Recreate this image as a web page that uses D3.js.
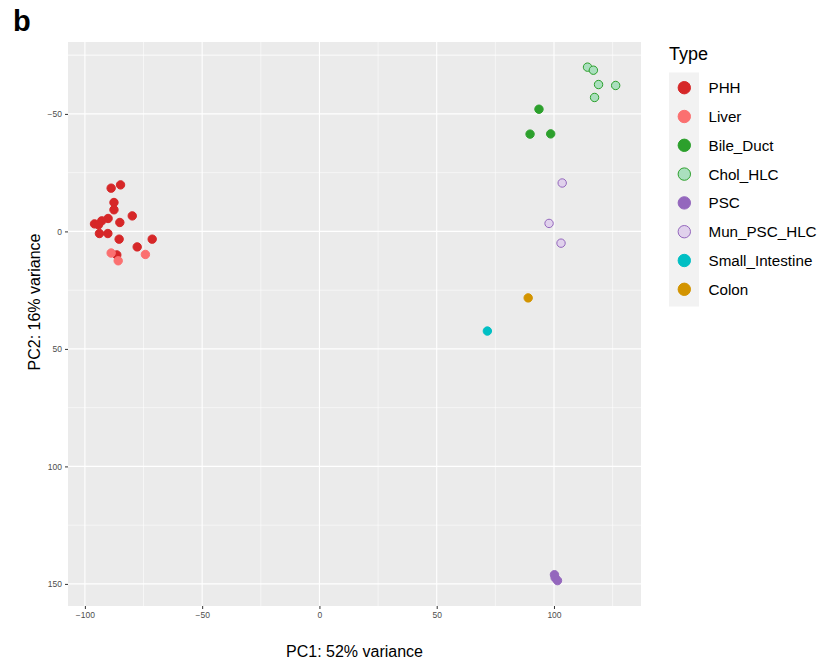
<!DOCTYPE html>
<html>
<head>
<meta charset="utf-8">
<script src="https://cdn.jsdelivr.net/npm/d3@7"></script>
<style>
  body { margin: 0; background: #fff; }
  text { font-family: "Liberation Sans", Arial, sans-serif; }
</style>
</head>
<body>
<svg id="chart" width="821" height="666"></svg>
<script>
// Sample types, in legend order
const types = ["PHH", "Liver", "Bile_Duct", "Chol_HLC", "PSC", "Mun_PSC_HLC", "Small_Intestine", "Colon"];
const fills = ["#d62728", "#fb7070", "#2ca02c", "#aadfbe", "#9467bd", "#e0d1ec", "#00bfc4", "#d39400"];
const strokes = ["#d62728", "#fb7070", "#2ca02c", "#2ca02c", "#9467bd", "#9467bd", "#00bfc4", "#d39400"];

// PCA coordinates, one list per type
const phhPC1 = [-84.8, -88.8, -87.6, -87.6, -79.8, -90.1, -92.8, -95.9, -94.2, -85.1, -93.8, -90.2, -85.4, -71.3, -77.7, -86.4];
const phhPC2 = [-19.8, -18.4, -12.3, -9.2, -6.6, -5.5, -4.5, -3.2, -2.8, -3.8, 0.9, 0.9, 3.3, 3.3, 6.6, 10.0];
const liverPC1 = [-88.8, -85.8, -74.2];
const liverPC2 = [9.2, 12.5, 9.8];
const bilePC1 = [93.6, 89.8, 98.6];
const bilePC2 = [-52.0, -41.4, -41.5];
const cholPC1 = [114.3, 116.8, 119.0, 126.3, 117.3];
const cholPC2 = [-69.9, -68.6, -62.5, -62.1, -57.0];
const pscPC1 = [100.2, 100.5, 101.5];
const pscPC2 = [146.1, 147.4, 148.6];
const munPC1 = [103.5, 97.9, 103.0];
const munPC2 = [-20.6, -3.4, 5.0];
const siPC1 = [71.6];
const siPC2 = [42.4];
const colonPC1 = [89.0];
const colonPC2 = [28.3];

const xTicks = [-100, -50, 0, 50, 100];
const yTicks = [-50, 0, 50, 100, 150];

const groups = [
  [phhPC1, phhPC2], [liverPC1, liverPC2], [bilePC1, bilePC2], [cholPC1, cholPC2],
  [pscPC1, pscPC2], [munPC1, munPC2], [siPC1, siPC2], [colonPC1, colonPC2]
];
const points = [];
groups.forEach((g, i) => {
  g[0].forEach((v, j) => points.push({type: types[i], pc1: v, pc2: g[1][j]}));
});

const svg = d3.select("#chart");
const panel = {left: 68, right: 641, top: 42, bottom: 606};

const x = d3.scaleLinear().domain([-107.2, 137.1]).range([panel.left, panel.right]);
// PC2 is flipped: negative values on top
const y = d3.scaleLinear().domain([-80.6, 159.4]).range([panel.top, panel.bottom]);
const fillScale = d3.scaleOrdinal().domain(types).range(fills);
const strokeScale = d3.scaleOrdinal().domain(types).range(strokes);

svg.append("text").attr("x", 13).attr("y", 31)
  .attr("font-size", 29).attr("font-weight", "bold").text("b");

svg.append("rect")
  .attr("x", panel.left).attr("y", panel.top)
  .attr("width", panel.right - panel.left).attr("height", panel.bottom - panel.top)
  .attr("fill", "#ebebeb");

const minorX = xTicks.map(t => t - 25).concat([125]);
const minorY = yTicks.map(t => t - 25).concat([-75, 175]);
const grid = svg.append("g");
grid.selectAll(".mx").data(minorX.filter(v => x(v) > panel.left && x(v) < panel.right)).join("line")
  .attr("x1", d => x(d)).attr("x2", d => x(d)).attr("y1", panel.top).attr("y2", panel.bottom)
  .attr("stroke", "#fff").attr("stroke-width", 0.55);
grid.selectAll(".my").data(minorY.filter(v => y(v) > panel.top && y(v) < panel.bottom)).join("line")
  .attr("y1", d => y(d)).attr("y2", d => y(d)).attr("x1", panel.left).attr("x2", panel.right)
  .attr("stroke", "#fff").attr("stroke-width", 0.55);
grid.selectAll(".gx").data(xTicks).join("line")
  .attr("x1", d => x(d)).attr("x2", d => x(d)).attr("y1", panel.top).attr("y2", panel.bottom)
  .attr("stroke", "#fff").attr("stroke-width", 1.1);
grid.selectAll(".gy").data(yTicks).join("line")
  .attr("y1", d => y(d)).attr("y2", d => y(d)).attr("x1", panel.left).attr("x2", panel.right)
  .attr("stroke", "#fff").attr("stroke-width", 1.1);

const fmt = d => d < 0 ? "\u2212" + Math.abs(d) : String(d);
const xAxis = d3.axisBottom(x).tickValues(xTicks).tickSize(3).tickPadding(3).tickFormat(fmt);
const yAxis = d3.axisLeft(y).tickValues(yTicks).tickSize(3).tickPadding(3).tickFormat(fmt);

const gx = svg.append("g").attr("transform", `translate(0,${panel.bottom})`).call(xAxis);
const gy = svg.append("g").attr("transform", `translate(${panel.left},0)`).call(yAxis);
[gx, gy].forEach(g => {
  g.select(".domain").remove();
  g.selectAll(".tick line").attr("stroke", "#333").attr("stroke-width", 1);
  g.selectAll(".tick text").attr("fill", "#4d4d4d").attr("font-size", 8.5)
    .attr("font-family", "Liberation Sans, Arial, sans-serif");
});

svg.append("g").selectAll("circle").data(points).join("circle")
  .attr("cx", d => x(d.pc1)).attr("cy", d => y(d.pc2)).attr("r", 4.2)
  .attr("fill", d => fillScale(d.type)).attr("stroke", d => strokeScale(d.type))
  .attr("stroke-width", 1);

svg.append("text").attr("x", (panel.left + panel.right) / 2).attr("y", 657)
  .attr("text-anchor", "middle").attr("font-size", 16).text("PC1: 52% variance");
svg.append("text").attr("transform", "translate(40,302) rotate(-90)")
  .attr("text-anchor", "middle").attr("font-size", 16).text("PC2: 16% variance");

// legend
const legend = svg.append("g");
legend.append("text").attr("x", 669).attr("y", 60).attr("font-size", 18).text("Type");
legend.append("rect").attr("x", 669).attr("y", 72.5).attr("width", 30).attr("height", 234)
  .attr("fill", "#f2f2f2");
const rowY = d3.scaleLinear().domain([0, types.length - 1]).range([87.7, 289.3]);
const rows = legend.selectAll(".row").data(types).join("g")
  .attr("transform", (d, i) => `translate(0,${rowY(i)})`);
rows.append("circle").attr("cx", 684.3).attr("r", 6.2)
  .attr("fill", d => fillScale(d)).attr("stroke", d => strokeScale(d)).attr("stroke-width", 1);
rows.append("text").attr("x", 708.5).attr("dy", "0.36em").attr("font-size", 15.2).text(d => d);
</script>
</body>
</html>
